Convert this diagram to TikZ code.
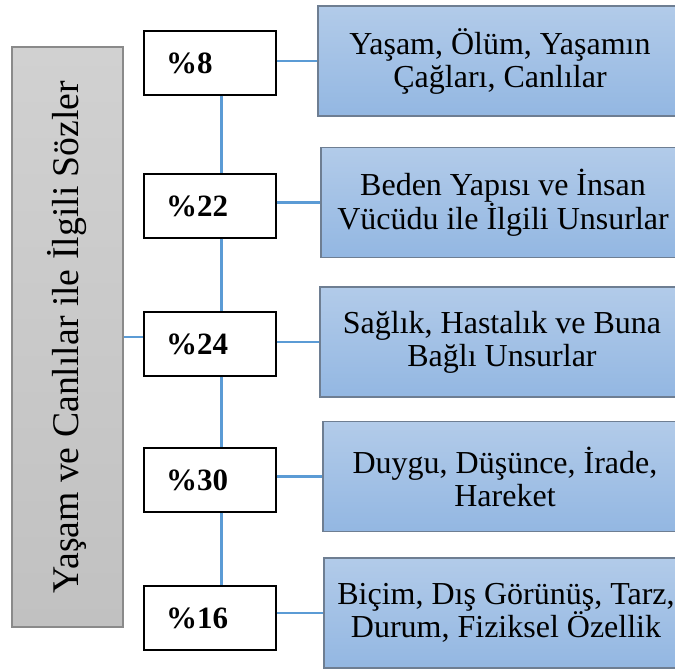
\documentclass[tikz,border=0pt]{standalone}
\usepackage{fontspec}
\setmainfont{Liberation Serif}
\usetikzlibrary{positioning,calc}
\definecolor{linkblue}{HTML}{5B9BD5}
\definecolor{boxtop}{HTML}{B2CBE9}
\definecolor{boxbot}{HTML}{93B7E2}
\definecolor{boxedge}{HTML}{6E7E92}
\definecolor{graytop}{HTML}{D1D1D1}
\definecolor{graybot}{HTML}{C1C1C1}
\definecolor{grayedge}{HTML}{8A8A8A}

\begin{document}
\begin{tikzpicture}[x=1pt, y=-1pt]
    \tikzset{
        pct/.style={draw=black, line width=1.2pt, fill=white, minimum width=132pt,
            minimum height=64pt, text width=88pt, inner xsep=22pt, inner ysep=0pt,
            align=left, font=\fontsize{31}{33}\selectfont\bfseries},
        grp/.style={draw=boxedge, line width=1.3pt, top color=boxtop, bottom color=boxbot,
            minimum width=364pt, minimum height=110pt, inner sep=0pt, align=center,
            font=\fontsize{32}{33}\selectfont},
        main/.style={draw=grayedge, line width=1.5pt, top color=graytop, bottom color=graybot,
            rotate=90, minimum width=580pt, minimum height=111pt, inner sep=0pt,
            font=\fontsize{37.7}{40}\selectfont},
        link/.style={draw=linkblue, line width=2.5pt}
    }
    \useasboundingbox (0,0) rectangle (675,669);
    \coordinate (spine) at (221.5,0);
    \node[main] (M) at (67.5,337) {Yaşam ve Canlılar ile İlgili Sözler};
    \node[pct]  (P1) at (210,63)  {\%8};
    \node[pct]  (P2) at (210,206) {\%22};
    \node[pct]  (P3) at (210,344) {\%24};
    \node[pct]  (P4) at (210,480) {\%30};
    \node[pct]  (P5) at (210,618) {\%16};
    \node[grp]  (G1) at (500,61)    {Yaşam, Ölüm, Yaşamın\\Çağları, Canlılar};
    \node[grp]  (G2) at (503,202.5) {Beden Yapısı ve İnsan\\Vücüdu ile İlgili Unsurlar};
    \node[grp]  (G3) at (502,342)   {Sağlık, Hastalık ve Buna\\Bağlı Unsurlar};
    \node[grp]  (G4) at (505,476.5) {Duygu, Düşünce, İrade,\\Hareket};
    \node[grp]  (G5) at (506,613)   {Biçim, Dış Görünüş, Tarz,\\Durum, Fiziksel Özellik};
    % spine between the percent boxes
    \foreach \a/\b in {P1/P2, P2/P3, P3/P4, P4/P5}
        \draw[link] (\a.south -| spine) -- (\b.north -| spine);
    % percent boxes to their groups
    \foreach \i in {1,...,5}
        \draw[link] (G\i.west -| P\i.east) -- (G\i.west);
    \draw[link] (M.south) -- (M.south -| P3.west);
\end{tikzpicture}
\end{document}
